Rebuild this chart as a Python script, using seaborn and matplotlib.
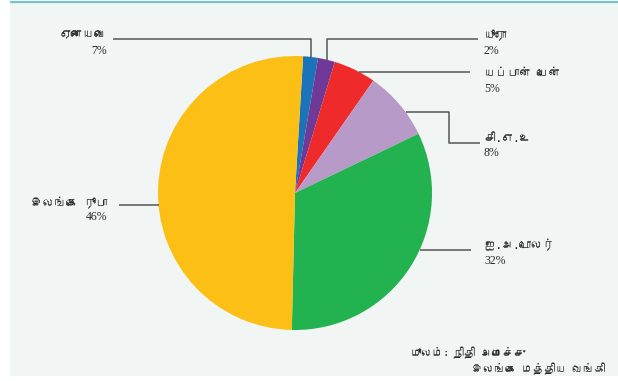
import matplotlib
matplotlib.use('Agg')
import matplotlib.pyplot as plt
import seaborn as sns
import numpy as np
from matplotlib import font_manager
from matplotlib.ft2font import FT2Font
from matplotlib.patches import Rectangle

# ===== 数据 =====
names = ['ஏனையவை', 'யூரோ', 'யப்பான் யென்', 'சி.எ.உ', 'ஐ.அ.டொலர்', 'இலங்கை ரூபா']
pct_labels = ['7%', '2%', '5%', '8%', '32%', '46%']
# slice sizes as drawn in the picture
shares = [1.75, 2.0, 5.0, 8.2, 32.5, 50.6]
colors = ['#1b73ba', '#6f3a97', '#ee2a2b', '#b89ac8', '#22b24f', '#fbbf15']
source_head = 'மூலம்:'
source_lines = ['நிதி அமைச்சு', 'இலங்கை மத்திய வங்கி']

sns.set_theme(style='white')

# find a font that has Tamil glyphs, if any
tamil_font = None
for f in font_manager.fontManager.ttflist:
    try:
        if ord('த') in FT2Font(f.fname).get_charmap():
            tamil_font = f.name
            break
    except Exception:
        pass
fam = [tamil_font, 'DejaVu Sans'] if tamil_font else ['DejaVu Sans']
plt.rcParams['font.family'] = fam

W, H = 618, 381
fig = plt.figure(figsize=(W / 100, H / 100), dpi=100)
fig.patch.set_facecolor('white')

# background panel
bg = fig.add_axes([0, 0, 1, 1], zorder=0)
bg.set_xlim(0, W)
bg.set_ylim(H, 0)
bg.axis('off')
bg.add_patch(Rectangle((10, 3), W - 10, 373, facecolor='#f1f5f4', edgecolor='none'))
bg.plot([10, W], [2, 2], color='#72c6cc', lw=1.6, solid_capstyle='butt')

# pie
cx, cy, r = 295, 193, 137
ax = fig.add_axes([(cx - r) / W, (H - cy - r) / H, 2 * r / W, 2 * r / H], zorder=1)
ax.pie(shares, colors=colors, startangle=86.6, counterclock=False,
       wedgeprops=dict(linewidth=0))
ax.set_xlim(-1, 1)
ax.set_ylim(-1, 1)
ax.axis('off')

# overlay for leader lines and text (pixel coords)
ov = fig.add_axes([0, 0, 1, 1], zorder=2)
ov.set_xlim(0, W)
ov.set_ylim(H, 0)
ov.axis('off')
ov.patch.set_alpha(0)

anchor_deg = [6.5, 13.4, 28, 53.8, 114.6, 265]  # clockwise from top
legs = [
    [('v', 39), ('h', 113)],
    [('v', 39), ('h', 478)],
    [('h', 470)],
    [('h', 449), ('v', 143), ('h', 480)],
    [('h', 471)],
    [('h', 119)],
]
for a, lg in zip(anchor_deg, legs):
    th = np.deg2rad(90 - a)
    disp = ax.transData.transform((np.cos(th), np.sin(th)))
    x0, y0 = ov.transData.inverted().transform(disp)
    xs, ys = [x0], [y0]
    for kind, v in lg:
        if kind == 'v':
            xs.append(xs[-1]); ys.append(v)
        else:
            xs.append(v); ys.append(ys[-1])
    ov.plot(xs, ys, color='#555555', lw=1.1, solid_capstyle='butt')

# label positions: (x, name_y, pct_y, ha)
label_pos = [
    (107, 35, 50.5, 'right'),
    (484, 35, 51.5, 'left'),
    (484, 72.5, 89, 'left'),
    (484, 137.5, 153, 'left'),
    (484, 245, 260.5, 'left'),
    (107, 202.5, 217, 'right'),
]
for (x, yn, yp, ha), nm, pc in zip(label_pos, names, pct_labels):
    ov.text(x, yn, nm, ha=ha, va='center', fontsize=8.5, color='#2b2b2b', family=fam)
    ov.text(x, yp, pc, ha=ha, va='center', fontsize=8.5, color='#2b2b2b',
            family=['Liberation Serif', 'DejaVu Serif'])

# source
ov.text(449, 353, source_head, ha='right', va='center', fontsize=8, style='italic',
        color='#2b2b2b', family=fam)
ov.text(453, 353, source_lines[0], ha='left', va='center', fontsize=8,
        color='#2b2b2b', family=fam)
ov.text(605, 369, source_lines[1], ha='right', va='center', fontsize=8,
        color='#2b2b2b', family=fam)

plt.savefig('out.png', dpi=100)
